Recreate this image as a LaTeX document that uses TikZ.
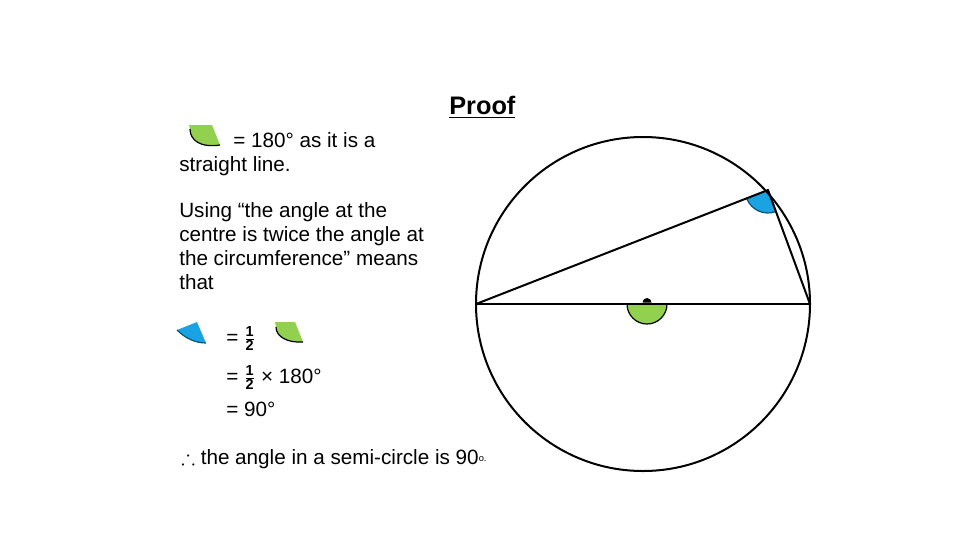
\documentclass[tikz,border=0pt]{standalone}
\usepackage{amssymb}
\usepackage{amsmath}
\usepackage{fontspec}
\setmainfont{Liberation Sans}
\definecolor{angblue}{HTML}{1AA3E3}
\definecolor{anggreen}{HTML}{92D050}

\begin{document}
\begin{tikzpicture}[x=0.75pt,y=-0.75pt,
	txt/.style={anchor=base west,inner sep=0pt,font=\fontsize{15.5}{18}\selectfont},
	chord/.style={line width=1.5pt,line join=round},
	edge/.style={line width=0.9pt}]
	\useasboundingbox (0,0) rectangle (960,540);
	\def\r{167}
	
	%CIRCLE AND TRIANGLE
	\coordinate (O) at (643,304);
	\coordinate (M) at (647,304);
	\coordinate (A) at (476,304);
	\coordinate (B) at (810,304);
	\coordinate (C) at (768,190);
	
	\fill[anggreen] (M) ++(20,0) arc[start angle=0,end angle=180,radius=20] -- cycle;
	\draw[edge] (M) ++(20,0) arc[start angle=0,end angle=180,radius=20];
	\fill[angblue] (C) -- ++(69.8:23) arc[start angle=69.8,end angle=158.7,radius=23] -- cycle;
	\draw[edge,angblue!50!black] (C) ++(69.8:23) arc[start angle=69.8,end angle=158.7,radius=23];
	
	\draw[chord] (O) circle[radius=\r];
	\draw[chord] (A) -- (B);
	\draw[chord] (A) -- (C) -- (B);
	\fill (M) ++(4.5,-1.5) arc[start angle=0,end angle=-180,radius=4.5] -- cycle; %centre
	
	%SMALL ANGLE ICONS
	\fill[anggreen] (189,125) -- (212,125) -- (220,145) .. controls (200,148) and (190,140) .. (190,129) -- cycle;
	\draw[edge] (190,129) .. controls (190,140) and (200,148) .. (220,145);
	\fill[angblue] (177,330) -- (197,322) -- (206,343) .. controls (195,343) and (185,338) .. (177,330) -- cycle;
	\draw[edge,angblue!50!black] (177,330) .. controls (185,338) and (195,343) .. (206,343);
	\fill[anggreen] (275,322) -- (295,322) -- (303,342) .. controls (288,343) and (276,337) .. (276,327) -- cycle;
	\draw[edge] (276,327) .. controls (276,337) and (288,343) .. (303,342);
	
	%TEXT
	\node[txt] (proof) at (449,114) {\fontsize{19}{22}\selectfont\bfseries\underline{Proof}};
	\node[txt] (line1) at (233,147) {= 180° as it is a};
	\node[txt] (line2) at (179,171) {straight line.};
	\node[txt,anchor=north west,align=left] (using) at (179,202) {
		Using “the angle at the\\
		centre is twice the angle at\\
		the circumference” means\\
		that
	};
	\node[txt] (half1) at (226,344) {= $\tfrac{\text{\bfseries 1}}{\text{\bfseries 2}}$};
	\node[txt] (half2) at (226,383) {= $\tfrac{\text{\bfseries 1}}{\text{\bfseries 2}}$ × 180°};
	\node[txt] (ninety) at (226,416) {= 90°};
	\node[txt] (concl) at (181,464) {$\therefore$ the angle in a semi-circle is 90{\scriptsize\raisebox{0.45ex}{o.}}};
\end{tikzpicture}
\end{document}
